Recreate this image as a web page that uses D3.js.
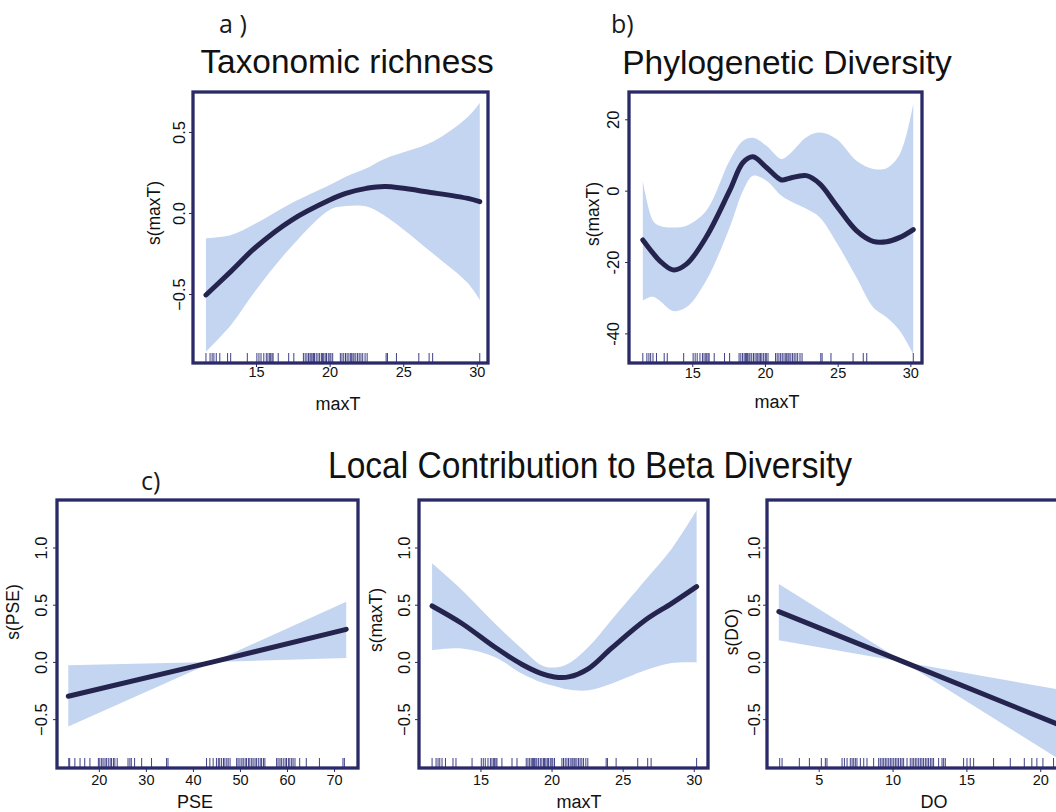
<!DOCTYPE html>
<html>
<head>
<meta charset="utf-8">
<script src="https://cdn.jsdelivr.net/npm/d3@7"></script>
<style>
  body { margin: 0; background: #fff; }
  svg { display: block; font-family: "Liberation Sans", Arial, sans-serif; }
</style>
</head>
<body>
<script>
const W = 1056, H = 812;
const bandCol = "#c3d5f0", lineCol = "#25244f", boxCol = "#2b2a68", rugCol = "#3f3f88";

// rug values (observations)
const maxTRug = [11.6, 11.88, 12.02, 12.14, 12.3, 12.54, 13.07, 13.28, 14.41, 15.06, 15.2, 15.34, 15.53, 15.7,
  15.81, 15.93, 16.0, 16.09, 16.16, 16.51, 17.22, 17.57, 18.22, 18.34, 18.46, 18.57, 18.67, 18.74, 18.81, 18.9,
  18.97, 19.09, 19.21, 19.32, 19.44, 19.51, 19.6, 19.7, 19.79, 19.91, 20.02, 20.09, 20.21, 20.73, 20.84, 20.96,
  21.08, 21.19, 21.31, 21.43, 21.5, 21.59, 21.66, 21.78, 21.9, 22.01, 22.13, 22.25, 22.41, 22.55, 23.84, 23.93,
  24.54, 26.06, 26.76, 27.0, 30.2];
const pseRug = [13.6, 13.8, 14.9, 16.0, 17.0, 18.1, 19.9, 20.2, 20.6, 20.9, 21.3, 21.6, 22.0, 22.4, 22.7, 23.1,
  23.4, 23.9, 26.2, 26.6, 26.9, 27.6, 29.1, 31.2, 34.4, 34.7, 42.9, 43.6, 44.3, 45.0, 45.4, 45.7, 46.1, 46.5,
  46.8, 47.2, 47.5, 47.9, 49.3, 49.6, 50.0, 50.4, 50.7, 51.1, 51.4, 51.8, 52.1, 52.5, 52.8, 53.2, 53.5, 53.9,
  54.3, 54.6, 55.0, 55.3, 57.8, 58.1, 58.5, 58.8, 59.2, 59.6, 59.9, 60.3, 60.6, 61.0, 61.3, 61.7, 62.7, 64.1,
  66.9, 71.9, 72.2];
const doRug = [2.36, 2.52, 3.69, 4.37, 5.18, 5.45, 5.56, 6.58, 6.74, 6.92, 7.14, 7.26, 7.37, 7.48, 7.59, 7.82,
  8.05, 8.27, 8.72, 9.06, 9.17, 9.29, 9.4, 9.51, 9.62, 9.74, 9.85, 9.96, 10.08, 10.19, 10.3, 10.41, 10.53, 10.64,
  10.75, 10.98, 11.2, 11.32, 11.43, 11.54, 11.65, 11.77, 11.88, 11.99, 12.1, 12.22, 12.33, 12.44, 12.56, 12.67,
  12.78, 13.12, 13.35, 13.46, 13.57, 14.81, 15.04, 15.26, 15.49, 16.84, 17.97, 18.92, 19.43, 19.77, 20.18, 20.9, 22.5];

// a) Taxonomic richness ~ s(maxT)
const aX   = [11.6, 13.3, 15.0, 17.4, 20.0, 21.1, 22.5, 23.8, 27.0, 29.4, 30.2];
const aFit = [-0.506, -0.36, -0.21, -0.045, 0.08, 0.121, 0.152, 0.163, 0.125, 0.09, 0.07];
const aLo  = [-0.856, -0.691, -0.475, -0.208, 0.019, 0.043, 0.04, -0.02, -0.249, -0.434, -0.537];
const aHi  = [-0.156, -0.136, -0.064, 0.06, 0.173, 0.224, 0.276, 0.337, 0.44, 0.594, 0.681];

// b) Phylogenetic Diversity ~ s(maxT)
const bX   = [11.6, 12.3, 12.75, 13.67, 14.6, 15.96, 17.57, 18.49, 19.18, 20.1, 21.13, 21.7, 22.85, 23.77,
  24.92, 26.29, 27.44, 28.36, 29.28, 30.2];
const bFit = [-13.8, -17.5, -19.6, -22.2, -20.6, -13.0, 0, 7.9, 9.5, 6.5, 3.0, 3.5, 4.2, 1.9, -4.2, -11.2,
  -14.2, -14.3, -13.1, -10.9];
const bLo  = [-30.8, -29.7, -30.8, -33.7, -32.7, -25.2, -10.3, 0, 4.2, 2.8, -1.4, -2.8, -5.1, -7.5, -14.5,
  -24.3, -32.7, -35.5, -39.3, -45.8];
const bHi  = [2.8, -8.4, -9.8, -10.3, -9.8, -5.6, 8.4, 14.0, 14.8, 12.6, 8.9, 10.3, 15.0, 16.3, 14.5, 8.4,
  6.1, 6.3, 10.3, 24.3];

// c) LCBD ~ s(PSE)
const c1X   = [13.5, 44.3, 72.6];
const c1Fit = [-0.30, 0.0, 0.285];
const c1Lo  = [-0.565, 0.0, 0.035];
const c1Hi  = [-0.03, 0.0, 0.525];

// c) LCBD ~ s(maxT)
const c2X   = [11.6, 13.7, 16.0, 17.9, 19.3, 20.2, 21.2, 22.6, 24.2, 26.6, 28.45, 30.2];
const c2Fit = [0.489, 0.336, 0.13, -0.02, -0.102, -0.131, -0.131, -0.058, 0.118, 0.366, 0.512, 0.658];
const c2Lo  = [0.103, 0.118, 0.044, -0.102, -0.18, -0.21, -0.242, -0.248, -0.19, -0.073, -0.01, -0.005];
const c2Hi  = [0.863, 0.629, 0.337, 0.118, -0.028, -0.049, -0.014, 0.132, 0.365, 0.716, 0.99, 1.325];

// c) LCBD ~ s(DO)
const c3X   = [2.3, 10.75, 22.5];
const c3Fit = [0.44, 0.0, -0.613];
const c3Lo  = [0.19, 0.0, -0.95];
const c3Hi  = [0.68, 0.0, -0.27];

// tick labels
const maxTTicks = [15, 20, 25, 30];
const pseTicks = [20, 30, 40, 50, 60, 70];
const doTicks = [5, 10, 15, 20];
const aYTicks = [-0.5, 0, 0.5];
const bYTicks = [-40, -20, 0, 20];
const cYTicks = [-0.5, 0, 0.5, 1.0];

const f1 = d3.format(".1f");
const fInt = d => String(d);
const smooth = d3.curveCatmullRom.alpha(0.5);

const panels = [
  { x: aX, fit: aFit, lo: aLo, hi: aHi, rug: maxTRug, xDom: [10.72, 30.76], yDom: [-0.926, 0.747],
    xTicks: maxTTicks, yTicks: aYTicks, yFmt: f1, xlab: "maxT", ylab: "s(maxT)", curve: smooth,
    box: [193, 92, 295, 271], yTickOff: 8, ylabOff: 33, ylabY: 213, xlabX: 338, xlabY: 410, xPad: 0 },
  { x: bX, fit: bFit, lo: bLo, hi: bHi, rug: maxTRug, xDom: [10.65, 30.8], yDom: [-48.3, 27.65],
    xTicks: maxTTicks, yTicks: bYTicks, yFmt: fInt, xlab: "maxT", ylab: "s(maxT)", curve: smooth,
    box: [629, 92, 293, 271], yTickOff: 10.5, ylabOff: 30, ylabY: 214, xlabX: 777, xlabY: 408, xPad: 1 },
  { x: c1X, fit: c1Fit, lo: c1Lo, hi: c1Hi, rug: pseRug, xDom: [11.1, 75.1], yDom: [-0.927, 1.415],
    xTicks: pseTicks, yTicks: cYTicks, yFmt: f1, xlab: "PSE", ylab: "s(PSE)", curve: d3.curveLinear,
    box: [57, 500, 301, 268], yTickOff: 10.5, ylabOff: 38, ylabY: 612, xlabX: 195, xlabY: 808, xPad: 3 },
  { x: c2X, fit: c2Fit, lo: c2Lo, hi: c2Hi, rug: maxTRug, xDom: [10.68, 31.0], yDom: [-0.927, 1.415],
    xTicks: maxTTicks, yTicks: cYTicks, yFmt: f1, xlab: "maxT", ylab: "s(maxT)", curve: smooth,
    box: [419, 500, 289, 268], yTickOff: 9.3, ylabOff: 37, ylabY: 620, xlabX: 579, xlabY: 808, xPad: 3 },
  { x: c3X, fit: c3Fit, lo: c3Lo, hi: c3Hi, rug: doRug, xDom: [1.5, 23.3], yDom: [-0.927, 1.415],
    xTicks: doTicks, yTicks: cYTicks, yFmt: f1, xlab: "DO", ylab: "s(DO)", curve: d3.curveLinear,
    box: [767, 500, 322, 268], yTickOff: 7, ylabOff: 29, ylabY: 632, xlabX: 934, xlabY: 808, xPad: 3 }
];

const svg = d3.select("body").append("svg").attr("width", W).attr("height", H);

panels.forEach((p, i) => {
  const [bx, by, bw, bh] = p.box;
  const g = svg.append("g").attr("transform", `translate(${bx},${by})`);
  const x = d3.scaleLinear().domain(p.xDom).range([0, bw]);
  const y = d3.scaleLinear().domain(p.yDom).range([bh, 0]);

  g.append("clipPath").attr("id", "clip" + i)
    .append("rect").attr("width", bw).attr("height", bh);
  const plot = g.append("g").attr("clip-path", `url(#clip${i})`);

  const rows = p.x.map((v, k) => ({ x: v, fit: p.fit[k], lo: p.lo[k], hi: p.hi[k] }));

  plot.append("path").datum(rows)
    .attr("d", d3.area().x(d => x(d.x)).y0(d => y(d.lo)).y1(d => y(d.hi)).curve(p.curve))
    .attr("fill", bandCol);

  plot.selectAll("line.rug").data(p.rug).join("line")
    .attr("class", "rug")
    .attr("x1", d => x(d)).attr("x2", d => x(d))
    .attr("y1", bh - 10).attr("y2", bh)
    .attr("stroke", rugCol).attr("stroke-width", 1);

  plot.append("path").datum(rows)
    .attr("d", d3.line().x(d => x(d.x)).y(d => y(d.fit)).curve(p.curve))
    .attr("fill", "none").attr("stroke", lineCol)
    .attr("stroke-width", 5).attr("stroke-linecap", "round");

  // x axis
  const xa = g.append("g").attr("transform", `translate(0,${bh})`)
    .call(d3.axisBottom(x).tickValues(p.xTicks).tickSize(4).tickPadding(p.xPad))
    .attr("font-size", 14.5).attr("font-family", null).attr("color", boxCol);
  xa.select(".domain").remove();
  xa.selectAll("text").attr("fill", "#111");

  // y axis, labels rotated as in R
  const ya = g.append("g")
    .call(d3.axisLeft(y).tickValues(p.yTicks).tickFormat(p.yFmt).tickSize(4))
    .attr("font-size", 16.5).attr("font-family", null).attr("color", boxCol);
  ya.select(".domain").remove();
  ya.selectAll("text")
    .attr("fill", "#111")
    .attr("transform", "rotate(-90)")
    .attr("x", 0).attr("y", -p.yTickOff).attr("dy", 0)
    .attr("text-anchor", "middle");

  // frame
  g.append("rect").attr("width", bw).attr("height", bh)
    .attr("fill", "none").attr("stroke", boxCol).attr("stroke-width", 3.3);

  // axis titles
  svg.append("text").attr("x", p.xlabX).attr("y", p.xlabY)
    .attr("text-anchor", "middle").attr("font-size", 18).attr("fill", "#111").text(p.xlab);
  svg.append("text")
    .attr("transform", `translate(${bx - p.ylabOff},${p.ylabY}) rotate(-90)`)
    .attr("text-anchor", "middle").attr("font-size", 17.5).attr("fill", "#111").text(p.ylab);
});

// panel titles and letters
svg.append("text").attr("x", 347).attr("y", 73).attr("text-anchor", "middle")
  .attr("font-size", 33.4).attr("fill", "#111").text("Taxonomic richness");
svg.append("text").attr("x", 787).attr("y", 74).attr("text-anchor", "middle")
  .attr("font-size", 33.5).attr("fill", "#111").text("Phylogenetic Diversity");
svg.append("text").attr("x", 590).attr("y", 478).attr("text-anchor", "middle")
  .attr("font-size", 36).attr("textLength", 524).attr("lengthAdjust", "spacingAndGlyphs")
  .attr("fill", "#111").text("Local Contribution to Beta Diversity");

const letters = [
  { t: "a )", x: 219, y: 33 },
  { t: "b)", x: 611, y: 33 },
  { t: "c)", x: 141, y: 490 }
];
svg.selectAll("text.letter").data(letters).join("text")
  .attr("class", "letter")
  .attr("x", d => d.x).attr("y", d => d.y)
  .attr("font-family", "'Open Sans', sans-serif").attr("font-size", 25).attr("fill", "#1a1a1a")
  .text(d => d.t);
</script>
</body>
</html>
